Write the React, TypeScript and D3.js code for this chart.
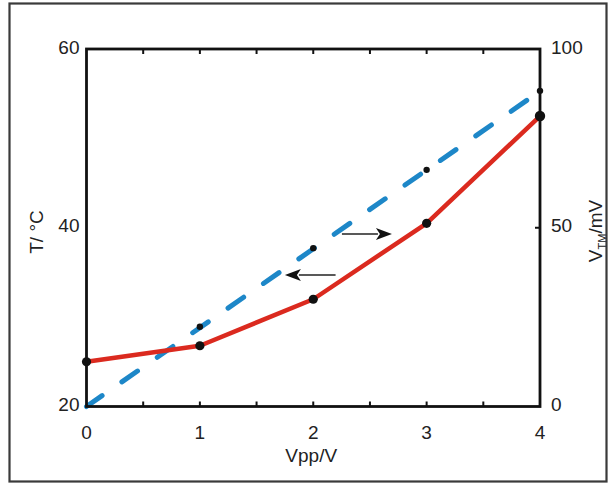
import React from "react";
import * as d3 from "d3";

// Peak-to-peak drive voltage (V)
const vpp = [0, 1, 2, 3, 4];
// Measured temperature (°C), left axis
const temperature = [25.0, 26.8, 32.0, 40.5, 52.5];
// Thermometer voltage (mV), right axis
const vtm = [22.3, 44.3, 66.2, 88.3];
const vtmX = [1, 2, 3, 4];
// Linear fit of the thermometer voltage
const fitX = [0, 4];
const fitV = [0, 88.2];

const xTicks = [0, 1, 2, 3, 4];
const xMinorTicks = [0.5, 1, 1.5, 2, 2.5, 3, 3.5];
const tTicks = [20, 40, 60];
const vTicks = [0, 50, 100];

// Direction arrows: [x0, x1, T]
const arrowToRight = [2.253, 2.694, 39.3];
const arrowToLeft = [2.197, 1.75, 34.7];

const W = 611;
const H = 484;
const left = 86.5;
const right = 540;
const top = 49;
const bottom = 406.5;

const RED = "#db2a1f";
const BLUE = "#1d87c8";
const FONT = "'Liberation Sans', Arial, Helvetica, sans-serif";

export default function App() {
  const x = d3.scaleLinear().domain([0, 4]).range([left, right]);
  const yT = d3.scaleLinear().domain([20, 60]).range([bottom, top]);
  const yV = d3.scaleLinear().domain([0, 100]).range([bottom, top]);

  const tLine = d3
    .line<number>()
    .x((_, i) => x(vpp[i]))
    .y((d) => yT(d));
  const fitLine = d3
    .line<number>()
    .x((_, i) => x(fitX[i]))
    .y((d) => yV(d));

  const arrow = (a: number[], key: string) => {
    const x0 = x(a[0]);
    const x1 = x(a[1]);
    const y = yT(a[2]);
    const dir = Math.sign(x1 - x0);
    const headLen = 16;
    const half = 6;
    const base = x1 - dir * headLen;
    return (
      <g key={key}>
        <line x1={x0} y1={y} x2={base + dir * 2} y2={y} stroke="#222" strokeWidth={1.5} />
        <path
          d={`M${x1},${y} L${base},${y - half} L${base + dir * 4},${y} L${base},${y + half} Z`}
          fill="#111"
        />
      </g>
    );
  };

  return (
    <svg
      width={W}
      height={H}
      style={{ position: "absolute", left: 0, top: 0, background: "#fff" }}
      fontFamily={FONT}
    >
      {/* outer frame */}
      <rect x={9.5} y={3.5} width={597} height={478} fill="none" stroke="#3a3a3a" strokeWidth={2.2} />

      {/* fitted voltage line */}
      <path
        d={fitLine(fitV) || ""}
        fill="none"
        stroke={BLUE}
        strokeWidth={5}
        strokeDasharray="19 24.1"
        strokeLinecap="round"
      />
      {vtm.map((v, i) => (
        <circle key={`v${i}`} cx={x(vtmX[i])} cy={yV(v)} r={3.2} fill="#111" />
      ))}

      {/* temperature curve */}
      <path d={tLine(temperature) || ""} fill="none" stroke={RED} strokeWidth={4.5} strokeLinejoin="round" />
      {temperature.map((t, i) => (
        <circle key={`t${i}`} cx={x(vpp[i])} cy={yT(t)} r={i === 4 ? 5.2 : 4.6} fill="#111" />
      ))}

      {arrow(arrowToRight, "ar")}
      {arrow(arrowToLeft, "al")}

      {/* axes box */}
      <rect x={left} y={top} width={right - left} height={bottom - top} fill="none" stroke="#111" strokeWidth={2.8} />

      {/* inward ticks */}
      {xMinorTicks.map((t) => (
        <g key={`xt${t}`}>
          <line x1={x(t)} x2={x(t)} y1={bottom} y2={bottom - 5} stroke="#111" strokeWidth={2} />
          <line x1={x(t)} x2={x(t)} y1={top} y2={top + 5} stroke="#111" strokeWidth={2} />
        </g>
      ))}
      <line x1={right} x2={right - 5} y1={yV(50)} y2={yV(50)} stroke="#111" strokeWidth={2} />

      {/* tick labels */}
      {xTicks.map((t) => (
        <text key={`xl${t}`} x={x(t)} y={432} textAnchor="middle" dominantBaseline="central" fontSize={19} fill="#222">
          {t}
        </text>
      ))}
      {tTicks.map((t) => (
        <text key={`tl${t}`} x={79.5} y={yT(t) - 2} textAnchor="end" dominantBaseline="central" fontSize={19} fill="#222">
          {t}
        </text>
      ))}
      {vTicks.map((t) => (
        <text key={`vl${t}`} x={551} y={yV(t) - 2} textAnchor="start" dominantBaseline="central" fontSize={19} fill="#222">
          {t}
        </text>
      ))}

      {/* axis titles */}
      <text x={(left + right) / 2 - 2} y={455} textAnchor="middle" dominantBaseline="central" fontSize={19} fill="#222">
        Vpp/V
      </text>
      <text
        transform={`translate(43,232) rotate(-90)`}
        textAnchor="middle"
        fontSize={19}
        fill="#222"
      >
        T/ °C
      </text>
      <text
        transform={`translate(602,231) rotate(-90)`}
        textAnchor="middle"
        fontSize={19}
        fill="#222"
      >
        V
        <tspan fontSize={11} dy={4}>TM</tspan>
        <tspan dy={-4}>/mV</tspan>
      </text>
    </svg>
  );
}
